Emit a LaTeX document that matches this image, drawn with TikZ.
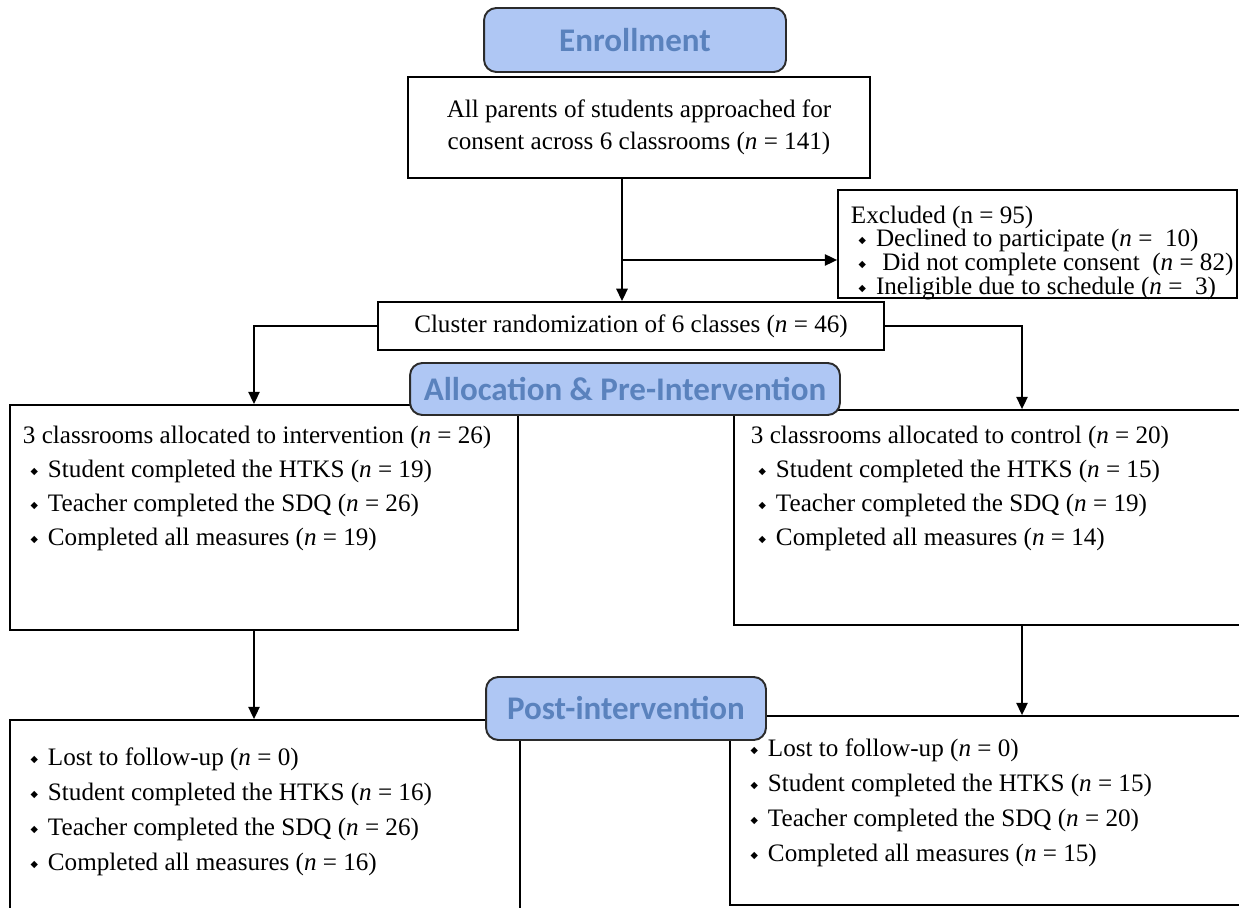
\documentclass[tikz,border=0pt]{standalone}
\usepackage{fontspec}
\setmainfont{Liberation Serif}
\newfontfamily\hdrfont{Carlito}
\newfontfamily\symfont{DejaVu Sans}
\usetikzlibrary{arrows.meta, positioning}
\definecolor{hblue}{HTML}{AFC7F4}
\definecolor{htext}{HTML}{5A82BD}
\definecolor{hline}{HTML}{2B2B2B}
\newcommand{\dia}{\hspace{0.3em}\raisebox{0.12em}{\symfont\fontsize{5.5}{6}\selectfont ◆}\hspace{0.4em}}
\newcommand{\nn}{\textit{n}}
\tikzset{
  every picture/.style={line width=1.1pt},
  box/.style={draw=black, fill=white, inner sep=0pt},
  header/.style={draw=hline, fill=hblue, rounded corners=7pt, text=htext, inner sep=0pt,
    font=\hdrfont\bfseries\fontsize{18.8}{21}\selectfont},
  body/.style={font=\fontsize{14.3}{#1}\selectfont, align=left, inner sep=0pt, anchor=north west},
  body/.default=19.3pt,
  arrow/.style={-{Triangle[length=7pt, width=6.5pt]}, line width=0.85pt},
}

\begin{document}
\begin{tikzpicture}[x=0.02cm, y=-0.02cm]
  \useasboundingbox (0,0) rectangle (1239,908);
  \clip (0,0) rectangle (1239,908);
  % boxes
  \node[box, minimum width=9.24cm, minimum height=2.02cm, align=center,
    font=\fontsize{14.3}{18}\selectfont] (consent) at (639,127.5)
    {All parents of students approached for\\consent across 6 classrooms (\nn{} = 141)};
  \node[box, minimum width=7.98cm, minimum height=2.16cm] (excl) at (1037.5,244) {};
  \node[box, minimum width=10.12cm, minimum height=0.96cm, font=\fontsize{14.3}{16}\selectfont] (rand) at (631,326)
    {Cluster randomization of 6 classes (\nn{} = 46)};
  \node[box, minimum width=10.16cm, minimum height=4.5cm] (intv) at (264,517.5) {};
  \node[box, minimum width=11.52cm, minimum height=4.3cm] (ctrl) at (1022,517.5) {};
  \node[box, minimum width=10.2cm, minimum height=4.8cm] (post1) at (265,840) {};
  \node[box, minimum width=11.68cm, minimum height=3.78cm] (post2) at (1022,810.5) {};
  % box texts
  \node[body=13.4pt] (excltxt) at (850,205)
    {Excluded (n = 95)\\
     \dia Declined to participate (\nn{} =\ \ 10)\\
     \dia\ Did not complete consent\ \ (\nn{} = 82)\\
     \dia Ineligible due to schedule (\nn{} =\ \ 3)};
  \node[body] (intvtxt) at (22,425)
    {3 classrooms allocated to intervention (\nn{} = 26)\\
     \dia Student completed the HTKS (\nn{} = 19)\\
     \dia Teacher completed the SDQ (\nn{} = 26)\\
     \dia Completed all measures (\nn{} = 19)};
  \node[body] (ctrltxt) at (750,425)
    {3 classrooms allocated to control (\nn{} = 20)\\
     \dia Student completed the HTKS (\nn{} = 15)\\
     \dia Teacher completed the SDQ (\nn{} = 19)\\
     \dia Completed all measures (\nn{} = 14)};
  \node[body=19.8pt] (post1txt) at (22,747)
    {\dia Lost to follow-up (\nn{} = 0)\\
     \dia Student completed the HTKS (\nn{} = 16)\\
     \dia Teacher completed the SDQ (\nn{} = 26)\\
     \dia Completed all measures (\nn{} = 16)};
  \node[body=19.8pt] (post2txt) at (742,738)
    {\dia Lost to follow-up (\nn{} = 0)\\
     \dia Student completed the HTKS (\nn{} = 15)\\
     \dia Teacher completed the SDQ (\nn{} = 20)\\
     \dia Completed all measures (\nn{} = 15)};
  % connectors
  \coordinate (split) at (622,260);
  \coordinate (lcol) at (254,0);
  \coordinate (rcol) at (1022,0);
  \draw[arrow] (consent.south -| split) -- (rand.north -| split);
  \draw[arrow] (split) -- (excl.west |- split);
  \draw[arrow] (rand.west) -| (intv.north -| lcol);
  \draw[arrow] (rand.east) -| (ctrl.north -| rcol);
  \draw[arrow] (intv.south -| lcol) -- (post1.north -| lcol);
  \draw[arrow] (ctrl.south -| rcol) -- (post2.north -| rcol);
  % stage headers
  \node[header, minimum width=6.04cm, minimum height=1.28cm] (enroll) at (635,40) {Enrollment};
  \node[header, minimum width=8.6cm, minimum height=1.04cm] (alloc) at (625,389) {Allocation \& Pre-Intervention};
  \node[header, minimum width=5.6cm, minimum height=1.26cm] (postint) at (626,708.5) {Post-intervention};
\end{tikzpicture}
\end{document}
